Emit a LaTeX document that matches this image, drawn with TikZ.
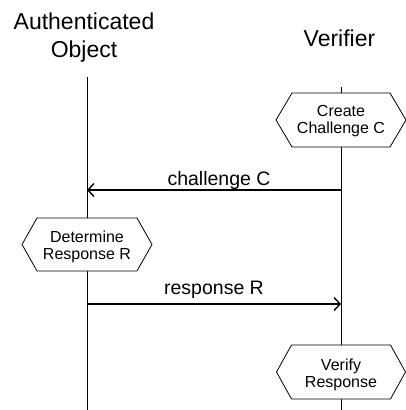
\documentclass[tikz,border=0pt]{standalone}
\usepackage{fontspec}
\setmainfont{Liberation Sans}
\usetikzlibrary{arrows.meta}
\begin{document}
\begin{tikzpicture}[x=1pt,y=-1pt,
 titletext/.style={font=\fontsize{23}{28}\selectfont, align=center, anchor=base, inner sep=0pt},
 hextext/.style={font=\fontsize{16}{17}\selectfont, align=center, anchor=base, inner sep=0pt},
 msgtext/.style={font=\fontsize{19.5}{22}\selectfont, anchor=base, inner sep=0pt},
 lifeline/.style={line width=1pt},
 hexagon/.style={draw, fill=white, line width=0.8pt, line join=miter},
 msgarrow/.style={line width=1.6pt, -{Straight Barb[length=6pt,width=13pt,line width=1.4pt]}}
]
\useasboundingbox (0,0) rectangle (405,410);
% titles (base = baseline of last line)
\node[titletext] (ao) at (84,57) {Authenticated\\Object};
\node[titletext] (ver) at (339.5,46.7) {Verifier};
% lifelines
\coordinate (aoTop) at (87,77);
\coordinate (aoBot) at (87,410);
\coordinate (verTop) at (341,87);
\coordinate (verBot) at (341,410);
\draw[lifeline] (aoTop) -- (aoBot);
\draw[lifeline] (verTop) -- (verBot);
% hexagon centres
\coordinate (ccC) at (341,120);
\coordinate (drC) at (87,244.5);
\coordinate (vrC) at (341,372);
\path[hexagon] ([xshift=-65pt]ccC) -- ++(16,-27) -- ++(98,0) -- ++(16,27) -- ++(-16,27) -- ++(-98,0) -- cycle;
\path[hexagon] ([xshift=-65pt]drC) -- ++(15,-26.5) -- ++(100,0) -- ++(15,26.5) -- ++(-15,26.5) -- ++(-100,0) -- cycle;
\path[hexagon] ([xshift=-64.5pt]vrC) -- ++(15,-27) -- ++(99,0) -- ++(15,27) -- ++(-15,27) -- ++(-99,0) -- cycle;
\node[hextext] (cc) at (341,133.3) {Create\\Challenge C};
\node[hextext] (dr) at (87,259) {Determine\\Response R};
\node[hextext] (vr) at (341,387.5) {Verify\\Response};
% messages
\coordinate (chFrom) at (341,190);
\coordinate (chTo) at (87,190);
\coordinate (rsFrom) at (87,304);
\coordinate (rsTo) at (341,304);
\draw[msgarrow] (chFrom) -- (chTo);
\draw[msgarrow] (rsFrom) -- (rsTo);
\node[msgtext] (chl) at (219,185) {challenge C};
\node[msgtext] (rsl) at (214,294.3) {response R};
\end{tikzpicture}
\end{document}
